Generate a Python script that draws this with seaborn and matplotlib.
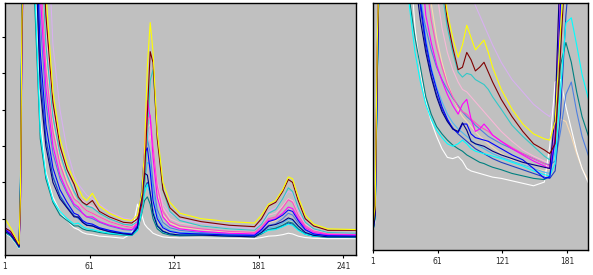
import numpy as np
import pandas as pd
import matplotlib
matplotlib.use("Agg")
import matplotlib.pyplot as plt
import seaborn as sns

# ---------------- data ----------------
LX = [1, 5, 9, 11, 12, 13, 15, 18, 22, 26, 30, 35, 40, 45, 50, 53, 56, 59, 63, 68, 75, 85,
      91, 95, 98, 100, 102, 104, 106, 109, 113, 118, 125, 140, 160, 178, 183, 188, 193, 198,
      202, 205, 209, 214, 220, 230, 250]

L_YELLOW = [1.0, 0.75, 0.45, 0.3, 1.8, 6.5, 10, 10, 10, 10, 7.2, 4.5, 3.2, 2.5, 2.05, 1.85, 1.6, 1.5, 1.7, 1.35, 1.15, 0.98, 0.95, 1.1, 1.7, 2.9, 5.2, 6.4, 5.6, 3.4, 2.0, 1.45, 1.15, 1.0, 0.92, 0.88, 1.1, 1.4, 1.5, 1.8, 2.15, 2.1, 1.6, 1.1, 0.85, 0.72, 0.7]
L_MAROON = [0.75, 0.65, 0.4, 0.28, 1.6, 6.0, 10, 10, 10, 10, 6.6, 4.2, 3.0, 2.35, 1.95, 1.6, 1.45, 1.38, 1.5, 1.2, 1.05, 0.9, 0.88, 1.0, 1.4, 2.2, 3.9, 5.6, 5.3, 3.2, 1.8, 1.3, 1.05, 0.92, 0.82, 0.78, 1.0, 1.35, 1.45, 1.75, 2.08, 2.0, 1.5, 1.0, 0.8, 0.68, 0.68]
L_PLUM = [0.8, 0.65, 0.42, 0.3, 1.5, 5.5, 10, 10, 10, 10, 10, 5.8, 4.0, 2.9, 2.2, 1.95, 1.8, 1.65, 1.55, 1.4, 1.2, 1.02, 0.98, 1.1, 1.5, 2.2, 3.2, 3.5, 3.0, 2.0, 1.4, 1.15, 0.98, 0.88, 0.78, 0.72, 0.9, 1.2, 1.3, 1.55, 1.75, 1.7, 1.25, 0.88, 0.7, 0.62, 0.6]
L_TURQ = [0.7, 0.6, 0.38, 0.26, 1.4, 5.5, 10, 10, 10, 9.0, 5.8, 3.8, 2.8, 2.2, 1.75, 1.55, 1.45, 1.35, 1.3, 1.15, 1.0, 0.85, 0.82, 0.92, 1.2, 1.8, 3.2, 4.8, 5.1, 3.4, 1.8, 1.2, 0.95, 0.8, 0.72, 0.68, 0.85, 1.15, 1.25, 1.55, 1.85, 1.75, 1.3, 0.9, 0.72, 0.62, 0.6]
L_LPINK = [0.7, 0.6, 0.38, 0.27, 1.5, 5.8, 10, 10, 10, 9.5, 6.2, 4.0, 2.9, 2.25, 1.8, 1.6, 1.5, 1.4, 1.35, 1.2, 1.02, 0.88, 0.84, 0.95, 1.3, 2.0, 3.0, 3.3, 2.9, 2.0, 1.3, 1.0, 0.88, 0.8, 0.72, 0.68, 0.85, 1.1, 1.15, 1.35, 1.55, 1.5, 1.15, 0.85, 0.7, 0.62, 0.6]
L_PEACH = [0.65, 0.58, 0.36, 0.25, 1.3, 5.2, 10, 10, 10, 8.6, 5.5, 3.6, 2.6, 2.05, 1.62, 1.42, 1.32, 1.22, 1.15, 1.05, 0.92, 0.8, 0.77, 0.9, 1.4, 2.4, 3.5, 3.6, 2.8, 1.7, 1.1, 0.88, 0.76, 0.7, 0.62, 0.6, 0.7, 0.9, 0.95, 1.1, 1.25, 1.2, 0.95, 0.75, 0.62, 0.56, 0.55]
L_HPINK = [0.68, 0.58, 0.36, 0.25, 1.4, 5.6, 10, 10, 10, 8.0, 5.1, 3.4, 2.5, 1.95, 1.55, 1.45, 1.32, 1.22, 1.15, 1.05, 0.92, 0.8, 0.76, 0.88, 1.4, 2.5, 3.7, 3.85, 3.0, 1.9, 1.2, 0.92, 0.8, 0.72, 0.65, 0.62, 0.78, 1.0, 1.05, 1.3, 1.52, 1.45, 1.1, 0.8, 0.66, 0.58, 0.56]
L_MAGENTA = [0.7, 0.6, 0.37, 0.25, 1.5, 5.8, 10, 10, 10, 7.2, 4.6, 3.0, 2.2, 1.75, 1.4, 1.32, 1.15, 1.05, 1.05, 0.92, 0.82, 0.72, 0.7, 0.85, 1.6, 3.0, 4.25, 3.8, 2.7, 1.6, 1.05, 0.82, 0.72, 0.65, 0.6, 0.58, 0.72, 0.95, 1.0, 1.15, 1.32, 1.28, 1.0, 0.75, 0.62, 0.56, 0.55]
L_STEEL = [0.72, 0.6, 0.38, 0.26, 1.6, 6.0, 10, 10, 10, 6.5, 4.2, 2.8, 2.1, 1.7, 1.35, 1.25, 1.15, 1.05, 1.0, 0.9, 0.8, 0.7, 0.68, 0.82, 1.5, 2.5, 3.2, 2.8, 2.0, 1.25, 0.9, 0.75, 0.68, 0.62, 0.58, 0.56, 0.66, 0.82, 0.86, 1.0, 1.15, 1.1, 0.88, 0.68, 0.58, 0.54, 0.53]
L_BLUE = [0.7, 0.58, 0.36, 0.24, 1.8, 6.5, 10, 10, 10, 5.6, 3.6, 2.4, 1.8, 1.45, 1.15, 1.1, 0.95, 0.88, 0.85, 0.75, 0.68, 0.6, 0.58, 0.8, 1.8, 2.8, 2.95, 2.3, 1.5, 1.0, 0.75, 0.65, 0.6, 0.58, 0.55, 0.54, 0.7, 0.92, 0.98, 1.1, 1.24, 1.2, 0.95, 0.7, 0.58, 0.53, 0.52]
L_NAVY = [0.65, 0.55, 0.34, 0.22, 2.0, 6.8, 10, 10, 9.0, 4.6, 3.0, 2.0, 1.55, 1.3, 1.05, 1.05, 0.9, 0.82, 0.8, 0.72, 0.64, 0.58, 0.56, 0.75, 1.6, 2.25, 2.2, 1.7, 1.15, 0.8, 0.65, 0.58, 0.55, 0.55, 0.52, 0.5, 0.62, 0.8, 0.84, 0.92, 1.02, 0.98, 0.8, 0.62, 0.54, 0.5, 0.5]
L_SKY = [0.68, 0.58, 0.36, 0.24, 1.7, 6.2, 10, 10, 10, 5.2, 3.3, 2.2, 1.65, 1.35, 1.1, 1.0, 0.92, 0.85, 0.82, 0.75, 0.68, 0.62, 0.6, 0.72, 1.2, 2.0, 2.55, 2.5, 1.8, 1.1, 0.8, 0.68, 0.62, 0.6, 0.56, 0.55, 0.62, 0.75, 0.78, 0.88, 0.98, 0.95, 0.78, 0.62, 0.56, 0.53, 0.52]
L_ROYAL = [0.66, 0.56, 0.35, 0.23, 1.9, 6.6, 10, 10, 9.5, 5.0, 3.2, 2.15, 1.62, 1.32, 1.08, 1.02, 0.9, 0.82, 0.8, 0.72, 0.65, 0.58, 0.56, 0.7, 1.3, 1.85, 2.0, 1.7, 1.2, 0.82, 0.66, 0.58, 0.55, 0.56, 0.53, 0.52, 0.6, 0.7, 0.72, 0.8, 0.88, 0.85, 0.7, 0.58, 0.52, 0.5, 0.49]
L_TEAL = [0.62, 0.52, 0.32, 0.2, 2.2, 7.0, 10, 10, 7.0, 3.2, 2.1, 1.45, 1.1, 0.95, 0.8, 0.8, 0.72, 0.68, 0.66, 0.62, 0.58, 0.55, 0.54, 0.68, 1.15, 1.5, 1.6, 1.4, 1.0, 0.72, 0.6, 0.55, 0.53, 0.54, 0.52, 0.5, 0.58, 0.7, 0.74, 0.82, 0.91, 0.88, 0.72, 0.58, 0.52, 0.49, 0.48]
L_CYAN = [0.64, 0.54, 0.33, 0.21, 2.1, 6.9, 10, 10, 7.5, 3.4, 2.2, 1.5, 1.2, 1.0, 0.85, 0.88, 0.78, 0.72, 0.7, 0.65, 0.6, 0.56, 0.55, 0.68, 1.2, 1.7, 1.95, 1.7, 1.2, 0.8, 0.64, 0.58, 0.55, 0.56, 0.53, 0.52, 0.6, 0.68, 0.7, 0.78, 0.85, 0.82, 0.68, 0.57, 0.52, 0.5, 0.5]
L_WHITE = [0.6, 0.5, 0.3, 0.18, 2.3, 7.2, 10, 10, 8.0, 3.8, 2.3, 1.6, 1.2, 0.95, 0.75, 0.7, 0.62, 0.58, 0.56, 0.52, 0.5, 0.46, 0.6, 1.4, 1.1, 0.85, 0.75, 0.68, 0.6, 0.55, 0.5, 0.48, 0.47, 0.47, 0.46, 0.45, 0.48, 0.52, 0.53, 0.56, 0.6, 0.58, 0.52, 0.48, 0.46, 0.45, 0.45]

RX = [1, 3, 5, 7, 30, 35, 40, 45, 50, 55, 60, 65, 70, 75, 80, 84, 88, 92, 96, 100, 104, 108,
      112, 120, 130, 140, 150, 160, 165, 170, 175, 180, 185, 190, 195, 201]

R_YELLOW = [1.0, 1.8, 8.5, 12, 12, 12, 12, 12, 12, 12, 12, 11, 9.6, 8.6, 7.8, 8.3, 9.1, 8.6, 8.1, 8.3, 8.5, 8.0, 7.4, 6.5, 5.7, 5.1, 4.7, 4.5, 4.45, 5.2, 9.0, 12, 12, 12, 12, 12]
R_MAROON = [0.95, 1.7, 8.2, 12, 12, 12, 12, 12, 12, 12, 12, 11, 9.3, 8.2, 7.3, 7.4, 8.0, 7.7, 7.25, 7.4, 7.6, 7.2, 6.8, 6.1, 5.4, 4.8, 4.3, 4.05, 3.9, 4.3, 8.0, 12, 12, 12, 12, 12]
R_PLUM = [0.9, 1.6, 8.0, 12, 12, 12, 12, 12, 12, 12, 12, 12, 12, 12, 12, 11, 10.6, 10.4, 9.9, 9.5, 9.1, 8.7, 8.3, 7.6, 6.9, 6.4, 5.9, 5.55, 5.4, 6.0, 10, 12, 12, 12, 12, 12]
R_TURQ = [0.85, 1.5, 7.8, 12, 12, 12, 12, 12, 12, 12, 12, 10.5, 9.0, 8.0, 7.2, 7.0, 7.15, 7.1, 6.9, 6.8, 6.7, 6.5, 6.2, 5.7, 5.05, 4.6, 4.2, 3.8, 3.65, 4.5, 9.0, 12, 12, 12, 12, 12]
R_LPINK = [0.85, 1.5, 7.5, 12, 12, 12, 12, 12, 12, 12, 10.5, 9.0, 8.0, 7.3, 6.8, 6.5, 6.4, 6.2, 6.0, 5.8, 5.6, 5.4, 5.2, 4.8, 4.4, 4.05, 3.8, 3.6, 3.5, 5.0, 11, 12, 12, 12, 12, 12]
R_PEACH = [0.8, 1.4, 7.2, 12, 12, 12, 12, 12, 12, 10, 8.6, 7.6, 6.8, 6.2, 5.7, 5.4, 5.2, 5.0, 4.8, 4.6, 4.45, 4.3, 4.15, 3.9, 3.65, 3.45, 3.3, 3.2, 3.3, 4.5, 5.3, 5.2, 4.6, 3.9, 3.3, 2.8]
R_HPINK = [0.85, 1.6, 8.0, 12, 12, 12, 12, 12, 11, 9.3, 8.2, 7.4, 6.7, 6.2, 5.8, 5.6, 5.5, 5.3, 5.15, 5.0, 4.9, 4.8, 4.65, 4.4, 4.15, 3.9, 3.7, 3.5, 3.4, 5.0, 12, 12, 12, 12, 12, 12]
R_MAGENTA = [0.85, 1.6, 8.0, 12, 12, 12, 12, 12, 9.5, 8.4, 7.5, 6.85, 6.3, 5.85, 5.5, 5.9, 6.1, 5.3, 4.8, 4.9, 5.1, 4.9, 4.65, 4.4, 4.1, 3.85, 3.6, 3.4, 3.3, 4.5, 10, 12, 12, 12, 12, 12]
R_STEEL = [0.8, 1.4, 7.0, 12, 12, 12, 12, 10, 9.0, 8.1, 7.4, 6.9, 6.5, 6.15, 5.85, 5.6, 5.4, 5.25, 5.05, 4.9, 4.75, 4.6, 4.5, 4.3, 4.1, 3.9, 3.7, 3.5, 3.45, 3.6, 4.8, 6.3, 6.8, 5.6, 4.6, 3.8]
R_BLUE = [0.8, 1.5, 7.5, 12, 12, 12, 12, 10, 8.4, 7.3, 6.5, 5.8, 5.3, 4.9, 4.75, 5.1, 5.1, 4.7, 4.55, 4.5, 4.45, 4.4, 4.3, 4.1, 3.85, 3.65, 3.3, 2.9, 2.95, 4.5, 10, 12, 12, 12, 12, 12]
R_NAVY = [0.75, 1.4, 7.2, 12, 12, 12, 11, 9.3, 8.0, 7.0, 6.2, 5.6, 5.2, 4.9, 4.8, 5.15, 4.85, 4.4, 4.3, 4.25, 4.2, 4.1, 4.0, 3.85, 3.7, 3.55, 3.45, 3.35, 3.3, 5.5, 12, 12, 12, 12, 12, 12]
R_SKY = [0.8, 1.45, 7.3, 12, 12, 12, 12, 10.5, 8.6, 7.4, 6.6, 6.0, 5.5, 5.15, 4.9, 4.75, 4.6, 4.45, 4.3, 4.2, 4.1, 4.0, 3.9, 3.75, 3.6, 3.45, 3.3, 3.15, 3.1, 4.0, 8.0, 12, 12, 12, 12, 12]
R_ROYAL = [0.78, 1.4, 7.1, 12, 12, 12, 12, 9.8, 8.2, 7.1, 6.3, 5.7, 5.25, 4.95, 4.7, 4.55, 4.4, 4.25, 4.1, 4.0, 3.9, 3.8, 3.7, 3.55, 3.4, 3.25, 3.1, 2.95, 2.9, 3.2, 5.5, 9.5, 12, 12, 12, 12]
R_TEAL = [0.75, 1.3, 6.8, 12, 12, 10.1, 8.6, 7.4, 6.2, 5.5, 5.0, 4.7, 4.45, 4.25, 4.1, 4.0, 3.85, 3.75, 3.65, 3.55, 3.5, 3.42, 3.35, 3.25, 3.1, 3.0, 2.9, 2.85, 3.0, 4.6, 7.5, 8.4, 7.6, 6.4, 5.4, 4.6]
R_CYAN = [0.78, 1.35, 7.0, 12, 12, 9.8, 8.0, 6.8, 5.9, 5.3, 4.85, 4.55, 4.3, 4.2, 4.3, 4.45, 4.3, 4.1, 4.0, 3.95, 3.9, 3.85, 3.8, 3.7, 3.55, 3.4, 3.2, 3.05, 3.0, 3.5, 6.5, 9.2, 9.4, 8.3, 7.1, 6.1]
R_WHITE = [0.7, 1.2, 6.5, 12, 12, 12, 9.0, 7.2, 6.0, 5.2, 4.6, 4.1, 3.75, 3.7, 3.78, 3.6, 3.3, 3.2, 3.15, 3.1, 3.05, 3.0, 2.95, 2.9, 2.8, 2.7, 2.6, 2.75, 4.2, 6.8, 6.9, 5.8, 4.9, 4.0, 3.3, 2.7]

SERIES = ["plum", "peach", "lpink", "white", "sky", "steel", "royal", "teal", "cyan",
          "turq", "hpink", "magenta", "blue", "navy", "maroon", "yellow"]
LEFT = {"yellow": L_YELLOW, "maroon": L_MAROON, "plum": L_PLUM, "turq": L_TURQ,
        "lpink": L_LPINK, "peach": L_PEACH, "hpink": L_HPINK, "magenta": L_MAGENTA,
        "steel": L_STEEL, "blue": L_BLUE, "navy": L_NAVY, "sky": L_SKY, "royal": L_ROYAL,
        "teal": L_TEAL, "cyan": L_CYAN, "white": L_WHITE}
RIGHT = {"yellow": R_YELLOW, "maroon": R_MAROON, "plum": R_PLUM, "turq": R_TURQ,
         "lpink": R_LPINK, "peach": R_PEACH, "hpink": R_HPINK, "magenta": R_MAGENTA,
         "steel": R_STEEL, "blue": R_BLUE, "navy": R_NAVY, "sky": R_SKY, "royal": R_ROYAL,
         "teal": R_TEAL, "cyan": R_CYAN, "white": R_WHITE}
COLORS = {"yellow": "#FFFF00", "maroon": "#800000", "plum": "#D8B0F0", "turq": "#30C8C8",
          "lpink": "#F8B8D8", "peach": "#F8D8B0", "hpink": "#FF50C0", "magenta": "#FF00FF",
          "steel": "#5080E0", "blue": "#0000FF", "navy": "#000080", "sky": "#50B8F0",
          "royal": "#2040C0", "teal": "#008080", "cyan": "#00FFFF", "white": "#FFFFFF"}

L_TICKS = [1, 61, 121, 181, 241]
R_TICKS = [1, 61, 121, 181]


def long_df(xs, table):
    rows = []
    for name in SERIES:
        for xv, yv in zip(xs, table[name]):
            rows.append((name, xv, yv))
    return pd.DataFrame(rows, columns=["series", "x", "v"])


dfL = long_df(LX, LEFT)
dfR = long_df(RX, RIGHT)

# ---------------- plot ----------------
sns.set_theme(style="white")
plt.rcParams["font.family"] = ["DejaVu Sans"]

W, H = 593, 275
fig = plt.figure(figsize=(W / 100, H / 100), dpi=100)
fig.patch.set_facecolor("white")

axL = fig.add_axes([5 / W, 1 - 255 / H, (356 - 5) / W, (255 - 3) / H])
axR = fig.add_axes([373 / W, 1 - 250 / H, (588 - 373) / W, (250 - 3) / H])

for ax, df in ((axL, dfL), (axR, dfR)):
    sns.lineplot(data=df, x="x", y="v", hue="series", hue_order=SERIES,
                 palette=COLORS, estimator=None, sort=False, legend=False,
                 linewidth=0.8, ax=ax)
    ax.set_facecolor("#C0C0C0")
    for s in ax.spines.values():
        s.set_color("black")
        s.set_linewidth(1.0)
    ax.set_xlabel("")
    ax.set_ylabel("")

axL.set_xlim(1, 250)
axL.set_ylim(0, 6.94)
axL.set_xticks(L_TICKS)
axL.set_xticklabels([str(t) for t in L_TICKS])
axL.set_yticks([1, 2, 3, 4, 5, 6])
axL.set_yticklabels([])
axL.tick_params(axis="both", direction="out", length=2.5, width=0.8, color="black",
                labelsize=5.5, pad=2.5, left=True, bottom=True)

axR.set_xlim(1, 200.5)
axR.set_ylim(0, 10)
axR.set_xticks(R_TICKS)
axR.set_xticklabels([str(t) for t in R_TICKS])
axR.set_yticks([])
axR.tick_params(axis="x", direction="out", length=2.5, width=0.8, color="black",
                labelsize=5.5, pad=2.5, bottom=True)

fig.savefig("out.png", dpi=100, facecolor="white")
